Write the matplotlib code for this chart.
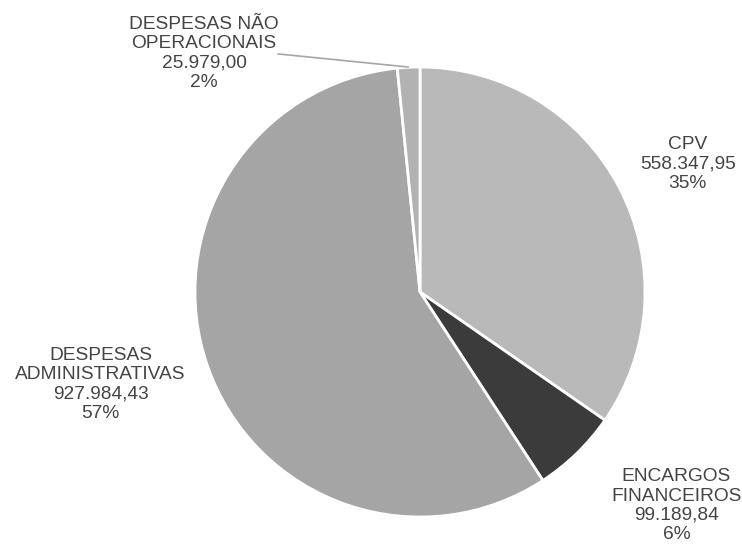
import matplotlib
matplotlib.use("Agg")
import matplotlib.pyplot as plt

labels = ["CPV", "ENCARGOS\nFINANCEIROS", "DESPESAS\nADMINISTRATIVAS", "DESPESAS NÃO\nOPERACIONAIS"]
values = [558347.95, 99189.84, 927984.43, 25979.00]
value_text = ["558.347,95", "99.189,84", "927.984,43", "25.979,00"]
pct_text = ["35%", "6%", "57%", "2%"]
colors = ["#b9b9b9", "#3b3b3b", "#a5a5a5", "#b2b2b2"]

# label positions in data units (pie radius = 1)
label_pos = [(1.19, 0.57), (1.14, -0.95), (-1.42, -0.41), (-0.96, 1.06)]

plt.rcParams["font.family"] = ["Liberation Sans", "DejaVu Sans"]

fig = plt.figure(figsize=(7.42, 5.46), dpi=100)
cx, cy, r = 420, 292, 225
ax = fig.add_axes([(cx - r) / 742, (546 - cy - r) / 546, 2 * r / 742, 2 * r / 546])
ax.pie(values, colors=colors, startangle=90, counterclock=False,
       wedgeprops=dict(edgecolor="white", linewidth=2))
ax.set_xlim(-1, 1)
ax.set_ylim(-1, 1)
ax.set_aspect("equal")
ax.axis("off")

for lab, v, p, (x, y) in zip(labels, value_text, pct_text, label_pos):
    ax.text(x, y, f"{lab}\n{v}\n{p}", ha="center", va="center",
            fontsize=13.8, color="#444444", linespacing=1.18, clip_on=False)

# leader line for the small slice
ax.plot([-0.63, -0.053], [1.058, 1.0], color="#a6a6a6", lw=1.2, clip_on=False)

fig.savefig("out.png", dpi=100)
